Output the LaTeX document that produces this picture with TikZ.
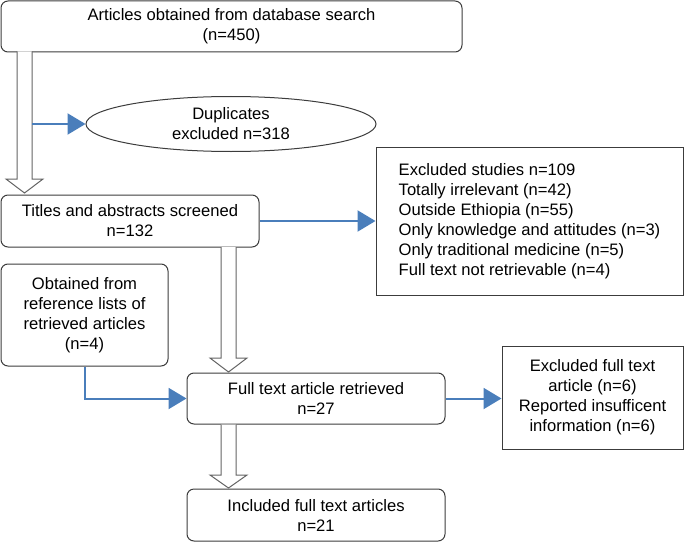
\documentclass[tikz,border=0pt]{standalone}
\usepackage{fontspec}
\setmainfont{Liberation Sans}
\usetikzlibrary{shapes.geometric,arrows.meta,calc}
\definecolor{flowblue}{RGB}{74,126,187}
\definecolor{boxline}{RGB}{60,60,60}
\definecolor{harrowline}{RGB}{100,100,100}
\newcommand\hollowarr[4]{% center x, top y, head base y, tip y
  \draw[hollowarrow] (#1-7.5,#2) -- (#1-7.5,#3) -- (#1-18.5,#3) -- (#1,#4) -- (#1+18.5,#3) -- (#1+7.5,#3) -- (#1+7.5,#2);}
\begin{document}
\begin{tikzpicture}[x=1pt,y=1pt,
  every node/.style={font=\fontsize{16.6}{20}\selectfont, text=black},
  roundbox/.style={draw=boxline, line width=1pt, rounded corners=7pt, fill=white, align=center, inner sep=0pt},
  sqbox/.style={draw=boxline, line width=1pt, fill=white, align=center, inner sep=0pt},
  dupell/.style={ellipse, draw=boxline, line width=1pt, fill=white, align=center, inner sep=0pt, minimum width=290pt, minimum height=55pt},
  blueline/.style={draw=flowblue, line width=2pt},
  bluearrow/.style={blueline, -{Triangle[length=18pt,width=21pt]}},
  hollowarrow/.style={draw=harrowline, line width=1pt, fill=white, line join=miter}]
\useasboundingbox (0,0) rectangle (684,542);

\node[roundbox, minimum width=461pt, minimum height=51pt] (search) at (231.5,515.5) {Articles obtained from database search\\(n=450)};
\node[dupell] (dup) at (231,418) {Duplicates\\excluded n=318};
\node[roundbox, minimum width=258pt, minimum height=52pt] (titles) at (130,321) {Titles and abstracts screened\\n=132};
\node[sqbox, minimum width=307pt, minimum height=148pt] (excl) at (529.5,321) {\begin{tabular}{@{}l@{}}Excluded studies n=109\\Totally irrelevant (n=42)\\Outside Ethiopia (n=55)\\Only knowledge and attitudes (n=3)\\Only traditional medicine (n=5)\\Full text not retrievable (n=4)\end{tabular}};
\node[roundbox, minimum width=167pt, minimum height=102pt] (ref) at (84.5,227) {Obtained from\\reference lists of\\retrieved articles\\(n=4)};
\node[roundbox, minimum width=258pt, minimum height=51pt] (full) at (316,143.5) {Full text article retrieved\\n=27};
\node[sqbox, minimum width=181pt, minimum height=103pt] (exclfull) at (592.5,144.5) {Excluded full text\\article (n=6)\\Reported insufficent\\information (n=6)};
\node[roundbox, minimum width=258pt, minimum height=52pt] (incl) at (316,27) {Included full text articles\\n=21};

% hollow arrows
\hollowarr{24.5}{490.5}{363}{349}
\hollowarr{228.5}{295}{184}{170}
\hollowarr{228.5}{117.5}{67}{54}

% blue connectors
\coordinate (shaft) at (32,418);
\draw[bluearrow] (shaft) -- (dup.west);
\draw[bluearrow] (titles.east) -- (excl.west);
\draw[bluearrow] (ref.south) |- (full.west);
\draw[bluearrow] (full.east) -- (exclfull.west |- full.east);
\end{tikzpicture}
\end{document}
